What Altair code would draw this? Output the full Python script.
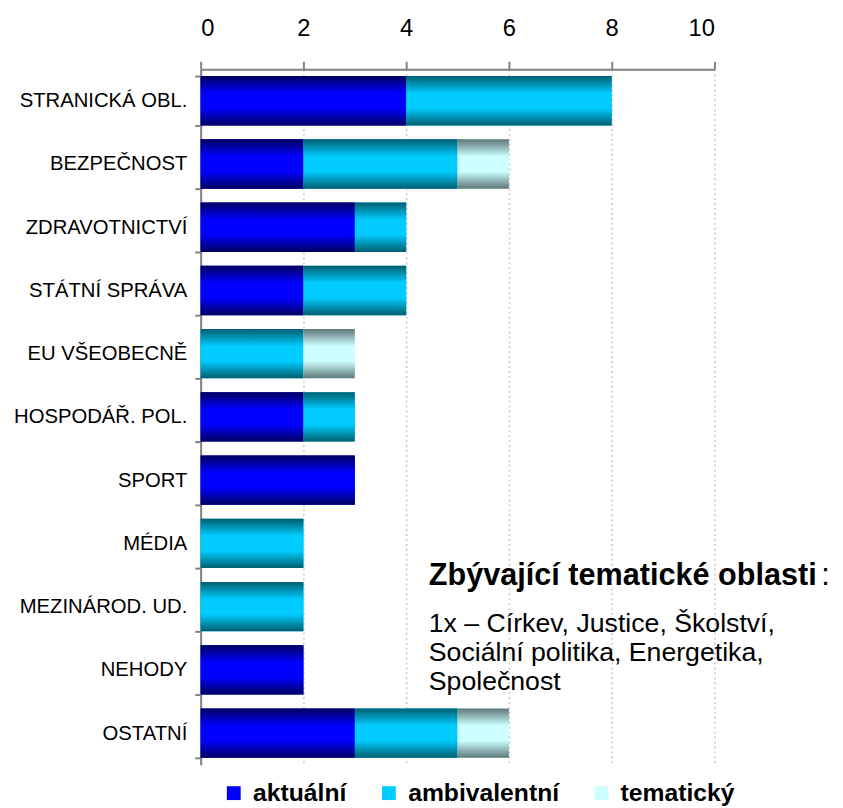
import altair as alt
import pandas as pd

categories = ["STRANICKÁ OBL.", "BEZPEČNOST", "ZDRAVOTNICTVÍ", "STÁTNÍ SPRÁVA",
              "EU VŠEOBECNĚ", "HOSPODÁŘ. POL.", "SPORT", "MÉDIA",
              "MEZINÁROD. UD.", "NEHODY", "OSTATNÍ"]
aktualni = [4, 2, 3, 2, 0, 2, 3, 0, 0, 2, 3]
ambivalentni = [4, 3, 1, 2, 2, 1, 0, 2, 2, 0, 2]
tematicky = [0, 1, 0, 0, 1, 0, 0, 0, 0, 0, 1]
series = ["aktuální", "ambivalentní", "tematický"]
x_ticks = [0, 2, 4, 6, 8, 10]

note_title = "Zbývající tematické oblasti"
note_lines = ["1x – Církev, Justice, Školství,",
              "Sociální politika, Energetika,",
              "Společnost"]

# colours: (edge, middle)
edge_colors = ["#000060", "#005f70", "#5f7878"]
mid_colors = ["#0000ff", "#00ccff", "#ccffff"]

rows = []
for ci, c in enumerate(categories):
    for si, (s, vals) in enumerate(zip(series, [aktualni, ambivalentni, tematicky])):
        if vals[ci] > 0:
            rows.append({"cat": c, "series": s, "value": vals[ci], "order": si})
df = pd.DataFrame(rows)

FONT = "Liberation Sans"

y_enc = alt.Y("cat:N", sort=categories, title=None,
              scale=alt.Scale(paddingInner=0.22, paddingOuter=0.11),
              axis=alt.Axis(labelFontSize=20.5, labelFont=FONT, labelColor="black",
                            labelPadding=8, tickSize=6, tickWidth=2, tickColor="#808080",
                            domainColor="#808080", domainWidth=2, tickBand="extent",
                            minExtent=188, maxExtent=188, labelLimit=300, grid=False))
x_scale = alt.Scale(domain=[0, 10], nice=False, zero=True)
x_axis = alt.Axis(orient="top", values=x_ticks, labelFontSize=24, labelFont=FONT,
                  labelColor="black", tickSize=8, tickWidth=2, tickColor="#808080",
                  domainColor="#808080", domainWidth=2, labelPadding=21,
                  grid=True, gridDash=[2, 3], gridColor="#c8c8c8", gridWidth=1.5,
                  minExtent=55, maxExtent=55)

base = alt.Chart(df).transform_stack(
    stack="value", groupby=["cat"], as_=["x0", "x1"],
    sort=[alt.SortField("order", order="ascending")]
)

legend_layer = base.mark_bar().encode(
    x=alt.X("x0:Q", scale=x_scale, axis=x_axis, title=None),
    x2="x1:Q",
    y=y_enc,
    color=alt.Color("series:N", sort=series,
                    scale=alt.Scale(domain=series, range=mid_colors),
                    legend=alt.Legend(orient="none", legendX=21, legendY=720,
                                      direction="horizontal", title=None,
                                      symbolType="square", symbolSize=196,
                                      symbolStrokeWidth=0,
                                      labelFontSize=25, labelFontWeight="bold",
                                      labelFont=FONT, labelColor="black",
                                      columnPadding=30, labelOffset=7)),
)

layers = [legend_layer]
for s, e, m in zip(series, edge_colors, mid_colors):
    grad = alt.Gradient(
        gradient="linear",
        stops=[alt.GradientStop(color=e, offset=0),
               alt.GradientStop(color=m, offset=0.35),
               alt.GradientStop(color=m, offset=0.65),
               alt.GradientStop(color=e, offset=1)],
        x1=0, x2=0, y1=0, y2=1)
    layers.append(
        base.transform_filter(alt.datum.series == s).mark_bar(color=grad).encode(
            x=alt.X("x0:Q", scale=x_scale, axis=x_axis, title=None),
            x2="x1:Q",
            y=y_enc,
        )
    )

title_df = pd.DataFrame({"t": [note_title], "x": [4.44]})
colon_df = pd.DataFrame({"t": [":"], "x": [12.08]})
lines_df = pd.DataFrame({"t": ["\n".join(note_lines)], "x": [4.44]})

title_text = alt.Chart(title_df).mark_text(
    align="left", baseline="alphabetic", fontSize=31, fontWeight="bold", font=FONT,
    color="black").encode(x=alt.X("x:Q", scale=x_scale), y=alt.value(522), text="t:N")
colon_text = alt.Chart(colon_df).mark_text(
    align="left", baseline="alphabetic", fontSize=31, font=FONT,
    color="black").encode(x=alt.X("x:Q", scale=x_scale), y=alt.value(522), text="t:N")
lines_text = alt.Chart(lines_df).mark_text(
    align="left", baseline="alphabetic", fontSize=27, font=FONT, color="black",
    lineBreak="\n", lineHeight=29).encode(
        x=alt.X("x:Q", scale=x_scale), y=alt.value(570), text="t:N")

chart = alt.layer(*layers, title_text, colon_text, lines_text).properties(
    width=520, height=704,
    padding={"left": 5, "top": 2, "right": 5, "bottom": 5},
).configure_view(stroke=None)

chart.save("out.html", embed_options={"renderer": "svg", "actions": False})
